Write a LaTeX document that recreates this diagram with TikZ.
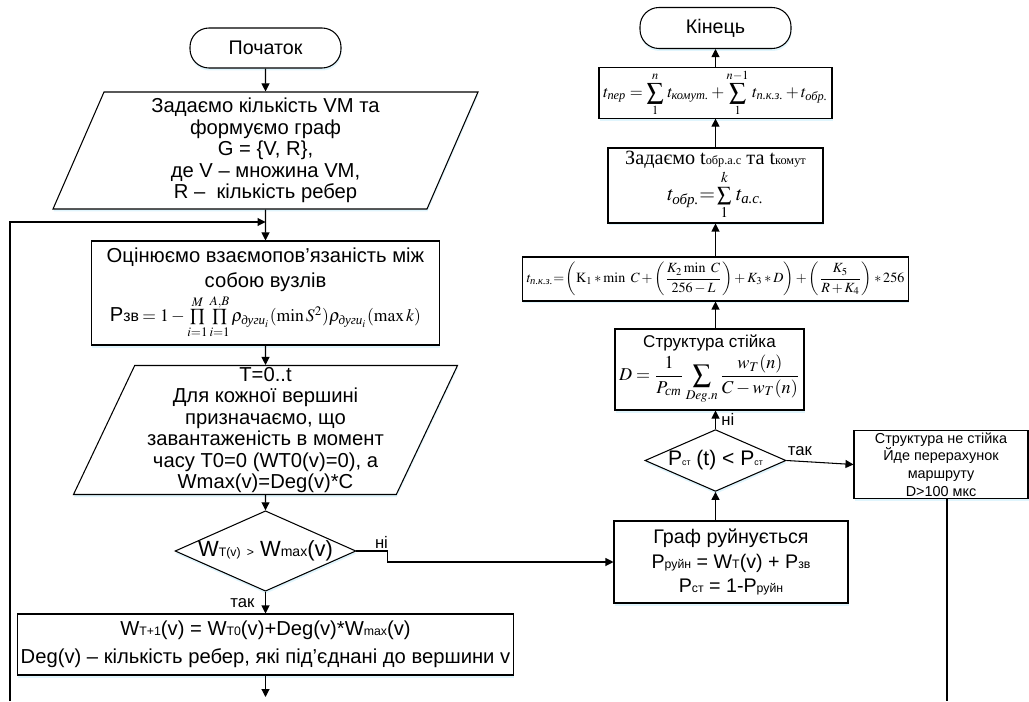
\documentclass[tikz,border=0pt]{standalone}
\usepackage{amsmath}
\usepackage{mathptmx}
\usepackage[no-math]{fontspec}
\setmainfont{Liberation Sans}
\newfontfamily\tnr{Liberation Serif}
\newcommand{\cyi}[1]{\text{\tnr\itshape #1}}
\usetikzlibrary{shapes.geometric,arrows.meta,shadows}

\begin{document}
\begin{tikzpicture}[line width=0.6pt,
    >={Triangle[length=1.6mm,width=1.6mm]},
    blueshadow/.style={drop shadow={shadow xshift=0.1mm,shadow yshift=-0.5mm,fill=cyan!12,opacity=1}},
    term/.style={draw, fill=white, blueshadow, rounded corners=3.8mm, minimum width=3.02cm, minimum height=0.8cm, font=\fontsize{11.2}{13}\selectfont},
    blok/.style={draw, fill=white, blueshadow, align=center, inner sep=1pt, font=\fontsize{11.5}{13}\selectfont},
    dani/.style={draw, fill=white, blueshadow, trapezium, trapezium left angle=64, trapezium right angle=116, trapezium stretches body, align=center, inner sep=0pt, font=\fontsize{11.5}{12.2}\selectfont},
    umova/.style={draw, fill=white, blueshadow, diamond, aspect=2.25, inner sep=0pt},
    lbl/.style={font=\fontsize{9.5}{11}\selectfont, inner sep=1pt}]
    \useasboundingbox (0,0) rectangle (20.58,14.02);

    % Ліва гілка
    \node[term] (start) at (5.31,13.06) {Початок};
    \node[dani, minimum width=8.5cm, minimum height=2.34cm] (vvod) at (5.31,11.01)
        {Задаємо кількість VM та\\ формуємо граф\\ G = \{V, R\},\\ де V -- множина VM,\\ R --\ \ кількість ребер};
    \node[blok, minimum width=6.96cm, minimum height=2.08cm, font=\fontsize{11.5}{14}\selectfont] (vzaem) at (5.31,8.16)
        {Оцінюємо взаємопов’язаність між\\ собою вузлів\\[1pt]
         P{\small зв}\,{\fontsize{10}{12}\selectfont $= 1-\prod\limits_{i=1}^{M}\prod\limits_{i=1}^{A,B}\rho_{\cyi{дуги}_i}(\min S^2)\rho_{\cyi{дуги}_i}(\max k)$}};
    \node[dani, minimum width=7.68cm, minimum height=2.58cm] (init) at (5.31,5.42)
        {T=0..t\\ Для кожної вершині\\ призначаємо, що\\ завантаженість в момент\\ часу T0=0 (WT0(v)=0), а\\ Wmax(v)=Deg(v)*C};
    \node[umova, minimum width=3.5cm, minimum height=1.56cm, font=\fontsize{12.5}{14}\selectfont] (perev) at (5.31,3.00)
        {W{\scriptsize T(v)} {\scriptsize >} W{\footnotesize max}(v)};
    \node[blok, minimum width=9.92cm, minimum height=1.22cm, font=\fontsize{11.5}{16}\selectfont] (onov) at (5.31,1.13)
        {W{\scriptsize T+1}(v) = W{\scriptsize T0}(v)+Deg(v)*W{\scriptsize max}(v)\\ Deg(v) -- кількість ребер, які під’єднані до вершини v};

    % Права гілка
    \node[term, minimum height=0.82cm] (kinec) at (14.31,13.46) {Кінець};
    \node[blok, minimum width=4.66cm, minimum height=1.0cm, font=\fontsize{9.5}{11}\selectfont] (tper) at (14.31,12.16)
        {$\displaystyle t_{\cyi{пер}} = \sum_{1}^{n}\, t_{\cyi{комут.}} + \sum_{1}^{n-1}\, t_{\cyi{п.к.з.}} + t_{\cyi{обр.}}$};
    \node[blok, minimum width=4.30cm, minimum height=1.50cm, font=\fontsize{11.5}{14}\selectfont] (zad) at (14.31,10.31)
        {{\tnr Задаємо t{\scriptsize обр.а.с} та t{\scriptsize комут}}\\
         $t_{\cyi{обр.}}{=}\sum\limits_{1}^{k}\, t_{\cyi{а.с.}}$};
    \node[blok, minimum width=7.72cm, minimum height=0.88cm, font=\fontsize{8}{10}\selectfont] (tpkz) at (14.31,8.44)
        {$t_{\cyi{п.к.з.}}{=}\left(\mathrm{K}_1 * \min\ C + \left(\dfrac{K_2 \min\ C}{256-L}\right) + K_3 * D\right) + \left(\dfrac{K_5}{R+K_4}\right) * 256$};
    \node[blok, minimum width=3.78cm, minimum height=1.62cm, font=\fontsize{9.7}{12}\selectfont] (stiika) at (14.19,6.63)
        {Структура стійка\\[1pt]
         {\fontsize{10.3}{12}\selectfont $\displaystyle D=\frac{1}{P_{\cyi{ст}}}\sum_{Deg.n}\frac{w_T(n)}{C-w_T(n)}$}};
    \node[umova, minimum width=2.82cm, minimum height=1.18cm, font=\fontsize{12}{14}\selectfont] (pst) at (14.31,4.81)
        {P{\tiny ст} (t) < P{\tiny ст}};
    \node[blok, minimum width=4.68cm, minimum height=1.64cm, font=\fontsize{11.2}{13.8}\selectfont] (ruin) at (14.62,2.78)
        {Граф руйнується\\ P{\scriptsize руйн} = W{\scriptsize T}(v) + P{\scriptsize зв}\\ P{\scriptsize ст} = 1-P{\scriptsize руйн}};
    \node[blok, minimum width=3.48cm, minimum height=1.34cm, font=\fontsize{8.2}{10}\selectfont] (nestiika) at (18.82,4.73)
        {Структура не стійка\\ Йде перерахунок\\ маршруту\\ D>100 мкс};

    % Зв'язки
    \coordinate (vhid) at (5.31,9.58);
    \coordinate (niz) at (0.2,0);
    \coordinate (vyhid) at (5.31,0.08);
    \coordinate (nizprav) at (18.94,0);
    \draw[->] (start) -- (vvod);
    \draw[->] (vvod) -- (vzaem);
    \draw[->] (niz) |- (vhid);
    \draw[->] (vzaem) -- (init);
    \draw[->] (init) -- (perev);
    \draw[->] (perev) -- (onov) node[midway, left=5pt, lbl] {так};
    \draw[->] (onov) -- (vyhid);
    \draw[->] (perev.east) -- ++(0.62,0) node[above, xshift=-0.12cm, lbl] {ні} |- (ruin.west);
    \draw[->] (ruin.north -| pst.south) -- (pst.south);
    \draw[->] (pst.north) -- (pst.north |- stiika.south) node[midway, right=2pt, lbl] {ні};
    \draw[->] (pst.east) -- (nestiika.west) node[pos=0.2, above=2pt, lbl] {так};
    \draw (nizprav |- nestiika.south) -- (nizprav);
    \draw[->] (tpkz.south |- stiika.north) -- (tpkz.south);
    \draw[->] (tpkz) -- (zad);
    \draw[->] (zad) -- (tper);
    \draw[->] (tper) -- (kinec);
\end{tikzpicture}
\end{document}
